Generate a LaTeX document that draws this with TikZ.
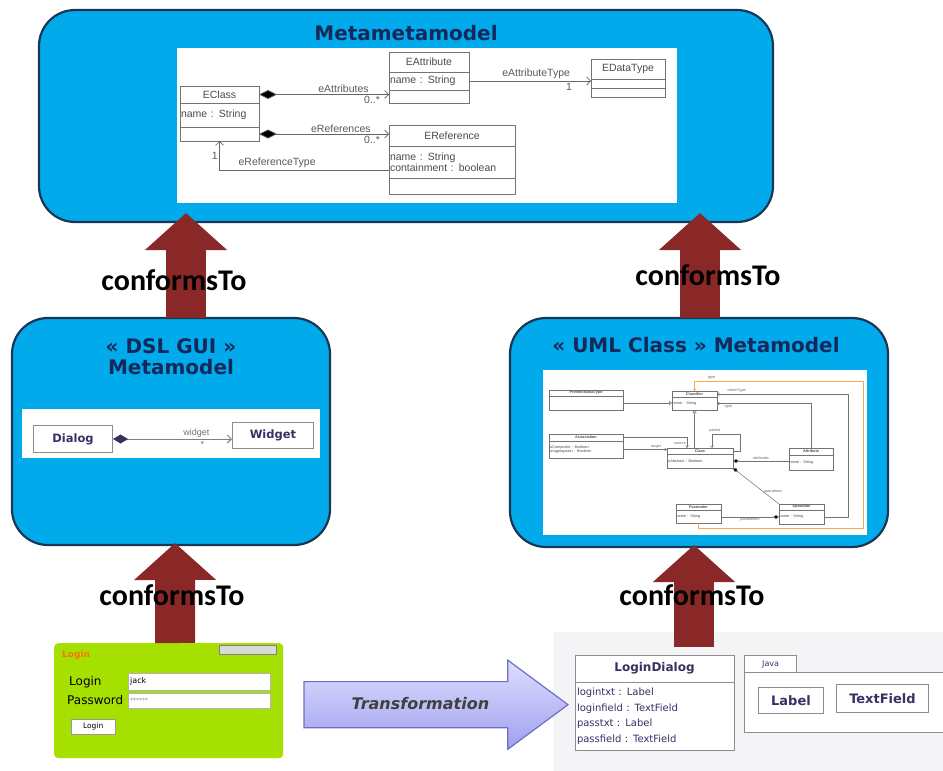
\documentclass[tikz,border=0pt]{standalone}
\usepackage{fontspec}
\setmainfont{Liberation Sans}
\newfontfamily\dejavu{DejaVu Sans}
\newfontfamily\carlito{Carlito}
\usetikzlibrary{positioning,arrows.meta,shapes.arrows}
\definecolor{modelblue}{RGB}{0,170,235}
\definecolor{modeledge}{RGB}{25,55,85}
\definecolor{titleblue}{RGB}{20,40,90}
\definecolor{conformred}{RGB}{138,40,40}
\definecolor{guigreen}{RGB}{166,224,0}
\definecolor{umltext}{RGB}{60,45,100}
\definecolor{panelgray}{RGB}{244,244,246}
\definecolor{translight}{RGB}{222,222,255}
\definecolor{transdark}{RGB}{160,160,238}
\definecolor{transedge}{RGB}{110,110,200}
\tikzset{
  model/.style={draw=modeledge, line width=2.2, fill=modelblue, rounded corners=36,
    anchor=north west, inner sep=0, outer sep=0},
  panel/.style={fill=white, anchor=north west, inner sep=0, outer sep=0},
  modeltitle/.style={font=\dejavu\bfseries\fontsize{20}{21}\selectfont, text=titleblue, align=center},
  conform/.style={line width=40, draw=conformred, -{Triangle[length=37pt,width=80pt]}},
  conformlabel/.style={font=\carlito\bfseries\fontsize{30}{30}\selectfont},
  ehead/.style={draw=black!55, line width=0.7, fill=white, outer sep=0, inner sep=1,
    font=\fontsize{10.5}{11.5}\selectfont, text=black!70, anchor=north west},
  ecomp/.style={ehead, anchor=north, align=left},
  eline/.style={draw=black!60, line width=0.7},
  elabel/.style={font=\fontsize{10.5}{11}\selectfont, text=black!65, inner sep=1.5},
  mhead/.style={draw=black!55, line width=0.5, fill=white, outer sep=0, inner sep=0.6,
    font=\bfseries\fontsize{3.8}{4.2}\selectfont, text=black!70, anchor=north west},
  mcomp/.style={mhead, anchor=north, align=left, font=\fontsize{3.8}{4.2}\selectfont},
  mline/.style={draw=black!55, line width=0.5},
  mlabel/.style={font=\fontsize{3.8}{4.2}\selectfont, text=black!60, inner sep=1},
  gbox/.style={draw=black!45, line width=1, fill=white, anchor=north west, inner sep=0,
    font=\dejavu\bfseries\fontsize{11.5}{12}\selectfont, text=umltext},
  glabel/.style={font=\fontsize{9}{9}\selectfont, text=black!55, inner sep=1.5},
  field/.style={fill=white, draw=black!30, anchor=north west, inner sep=2, align=left,
    text width=138, font=\dejavu\fontsize{8}{9}\selectfont},
  dhead/.style={draw=black!45, line width=1, fill=white, outer sep=0, inner sep=2,
    font=\dejavu\bfseries\fontsize{12}{13}\selectfont, text=umltext, anchor=north west},
  dcomp/.style={dhead, anchor=north, align=left, font=\dejavu\fontsize{10}{15.5}\selectfont},
  pkg/.style={draw=black!45, line width=1.2, fill=white, anchor=north west, inner sep=0,
    text=umltext}
}
\begin{document}
\begin{tikzpicture}[x=1pt,y=-1pt]
\useasboundingbox (0,0) rectangle (943,771);
\node[fill=panelgray, anchor=north west, minimum width=390, minimum height=139, inner sep=0] (bgpanel) at (553,632) {};

\node[model, minimum width=734, minimum height=212] (meta) at (39,10) {};
\node[modeltitle] (metatitle) at (406,33) {Metametamodel};
\node[panel, minimum width=500, minimum height=155] (metapanel) at (177,48) {};
\node[ehead, minimum width=79, minimum height=17] (eclass) at (180,86) {EClass};
\node[ecomp, text width=77, minimum height=24, below=0pt of eclass] (eclassA) {name : String};
\node[ecomp, text width=77, minimum height=14, below=0pt of eclassA] (eclassO) {};
\node[ehead, minimum width=80, minimum height=20] (eattr) at (389,52) {EAttribute};
\node[ecomp, text width=78, minimum height=18, below=0pt of eattr] (eattrA) {name : String};
\node[ecomp, text width=78, minimum height=13, below=0pt of eattrA] (eattrO) {};
\node[ehead, minimum width=74, minimum height=20] (edt) at (591,59) {EDataType};
\node[ecomp, text width=72, minimum height=9, below=0pt of edt] (edtA) {};
\node[ecomp, text width=72, minimum height=9, below=0pt of edtA] (edtO) {};
\node[ehead, minimum width=126, minimum height=21] (eref) at (389,125) {EReference};
\node[ecomp, text width=124, minimum height=32, below=0pt of eref] (erefA) {name : String\\containment : boolean};
\node[ecomp, text width=124, minimum height=16, below=0pt of erefA] (erefO) {};
\draw[eline, {Diamond[length=18pt,width=9pt,fill=black]}-{Straight Barb[length=4pt,width=8pt]}] (eclass.east) -- (eclass.east -| eattrO.west)
  node[elabel, above, pos=.65] {eAttributes} node[elabel, below, pos=.87] {0..*};
\draw[eline, {Diamond[length=18pt,width=9pt,fill=black]}-{Straight Barb[length=4pt,width=8pt]}] (eclassO.east) -- (eclassO.east -| erefA.west)
  node[elabel, above, pos=.63] {eReferences} node[elabel, below, pos=.87] {0..*};
\draw[eline, -{Straight Barb[length=4pt,width=8pt]}] (eattrA.east) -- (eattrA.east -| edt.west)
  node[elabel, above, pos=.55] {eAttributeType} node[elabel, below, pos=.82] {1};
\draw[eline, -{Straight Barb[length=4pt,width=8pt]}] ([yshift=-8]erefA.west) -| (eclassO.south)
  node[elabel, above, pos=.33] {eReferenceType} node[elabel, left, pos=.75] {1};

\node[model, minimum width=318, minimum height=227] (gui) at (12,318) {};
\node[modeltitle] (guititle) at (171,357) {« DSL GUI »\\Metamodel};
\node[panel, minimum width=298, minimum height=49] (guipanel) at (22,409) {};
\node[gbox, minimum width=79, minimum height=27] (dialog) at (33,425) {Dialog};
\node[gbox, minimum width=81, minimum height=26] (widget) at (232,422) {Widget};
\draw[draw=black!50, line width=1, {Diamond[length=15pt,width=9pt,fill=umltext,color=umltext]}-{Straight Barb[length=4pt,width=8pt]}] (dialog.east) -- (dialog.east -| widget.west)
  node[glabel, above, pos=.7] {widget} node[glabel, below, pos=.75] {*};

\node[model, minimum width=378, minimum height=229] (uml) at (510,318) {};
\node[modeltitle] (umltitle) at (696,345) {« UML Class » Metamodel};
\node[panel, minimum width=324, minimum height=165] (umlpanel) at (543,370) {};
\node[mhead, minimum width=74, minimum height=6] (pdt) at (549,390) {PrimitiveDataType};
\node[mcomp, text width=72.8, minimum height=14, below=0pt of pdt] (pdtA) {};
\node[mhead, minimum width=45, minimum height=6] (clf) at (672,391) {Classifier};
\node[mcomp, text width=43.8, minimum height=13, below=0pt of clf] (clfA) {name : String};
\node[mhead, minimum width=74, minimum height=7] (assoc) at (549,434) {Association};
\node[mcomp, text width=72.8, minimum height=17, below=0pt of assoc] (assocA) {isComposite : Boolean\\isAggregation : Boolean};
\node[mhead, minimum width=66, minimum height=6] (cls) at (667,448) {Class};
\node[mcomp, text width=64.8, minimum height=14, below=0pt of cls] (clsA) {isAbstract : Boolean};
\node[mhead, minimum width=44, minimum height=7] (attr) at (789,448) {Attribute};
\node[mcomp, text width=42.8, minimum height=15, below=0pt of attr] (attrA) {name : String};
\node[mhead, minimum width=45, minimum height=6] (par) at (676,504) {Parameter};
\node[mcomp, text width=43.8, minimum height=13, below=0pt of par] (parA) {name : String};
\node[mhead, minimum width=45, minimum height=6] (op) at (779,504) {Operation};
\node[mcomp, text width=43.8, minimum height=14, below=0pt of op] (opA) {name : String};
\draw[mline, -{Triangle[open,length=3pt,width=4pt]}] (pdtA.east) -- (pdtA.east -| clfA.west);
\draw[mline, -{Triangle[open,length=3pt,width=4pt]}] (clfA.south |- cls.north) -- (clfA.south);
\draw[mline, draw=orange!70, -{Straight Barb[length=2pt,width=3pt]}] (parA.south) |- (863,528) -- (863,381) -| (clf.north)
  node[mlabel, above, pos=.45] {type};
\draw[mline, -{Straight Barb[length=2pt,width=3pt]}] (opA.east) -| (848,394) -- (clf.east)
  node[mlabel, above, pos=.85] {returnType};
\draw[mline, -{Straight Barb[length=2pt,width=3pt]}] (attr.north) |- (clfA.east)
  node[mlabel, below, pos=.94] {type};
\draw[mline, {Straight Barb[length=2pt,width=3pt]}-] ([xshift=12]cls.north) |- node[mlabel, above, pos=.55] {parent} (740,434) |- (cls.east);
\draw[mline, -{Straight Barb[length=2pt,width=3pt]}] (assoc.east) -| ([xshift=-13]cls.north)
  node[mlabel, left, pos=.8] {source};
\draw[mline, -{Straight Barb[length=2pt,width=3pt]}] (assocA.east) -- (assocA.east -| cls.west)
  node[mlabel, above, pos=.75] {target};
\draw[mline, {Diamond[length=6pt,width=4pt,fill=black]}-] (clsA.east) -- (clsA.east -| attrA.west)
  node[mlabel, above, pos=.5] {attributes};
\draw[mline, {Diamond[length=6pt,width=4pt,fill=black]}-] (clsA.south east) -- (op.north west)
  node[mlabel, right, pos=.65] {operations};
\draw[mline, {Diamond[length=6pt,width=4pt,fill=black]}-] (opA.west) -- (opA.west -| parA.east)
  node[mlabel, below, pos=.5] {parameters};

\node[fill=guigreen, rounded corners=4, anchor=north west, minimum width=229, minimum height=115, inner sep=0] (login) at (54,643) {};
\node[font=\dejavu\bfseries\fontsize{9}{10}\selectfont, text=orange!90!red, anchor=west, inner sep=0] (logintitle) at (62,655) {Login};
\node[fill=black!15, draw=black!50, anchor=north west, minimum width=57, minimum height=9, inner sep=0] (loginctl) at (219,645) {};
\node[font=\dejavu\fontsize{12}{13}\selectfont, anchor=west, inner sep=0] (loginlbl) at (69,682) {Login};
\node[font=\dejavu\fontsize{12}{13}\selectfont, anchor=west, inner sep=0] (passlbl) at (67,700) {Password};
\node[field, minimum height=17] (loginfld) at (128,673) {jack};
\node[field, minimum height=15, font=\dejavu\fontsize{6}{7}\selectfont, text=black!50] (passfld) at (128,693) {******};
\node[fill=white, draw=black!40, anchor=north west, minimum width=44, minimum height=15, inner sep=0,
  font=\dejavu\fontsize{7.5}{8}\selectfont] (loginbtn) at (71,719) {Login};

\node[single arrow, single arrow head extend=21.5pt, single arrow tip angle=73, minimum height=264pt,
  text height=12pt, text depth=3pt, inner ysep=15pt, inner xsep=4pt, draw=transedge, line width=1.2,
  top color=translight, bottom color=transdark, font=\dejavu\bfseries\itshape\fontsize{16}{16}\selectfont,
  text=black!75, anchor=tail] (trans) at ([xshift=20,yshift=-4]login.east) {Transformation};

\node[dhead, minimum width=159, minimum height=27] (ldlg) at (575,655) {LoginDialog};
\node[dcomp, text width=155, minimum height=68, below=0pt of ldlg] (ldlgA) {logintxt : Label\\loginfield : TextField\\passtxt : Label\\passfield : TextField};
\node[pkg, minimum width=52, minimum height=17, font=\dejavu\fontsize{8}{9}\selectfont] (jtab) at (744,655) {Java};
\node[pkg, minimum width=210, minimum height=60] (jpkg) at (744,672) {};
\node[gbox, minimum width=65, minimum height=26, font=\dejavu\bfseries\fontsize{13}{14}\selectfont] (jlabel) at (758,687) {Label};
\node[gbox, minimum width=92, minimum height=28, font=\dejavu\bfseries\fontsize{13}{14}\selectfont] (jfield) at (836,684) {TextField};

\draw[conform] ([xshift=15]gui.north) -- ([xshift=-220,yshift=9]meta.south);
\draw[conform] ([xshift=1]uml.north) -- ([xshift=294,yshift=9]meta.south);
\draw[conform] ([xshift=6.5]login.north) -- ([xshift=4,yshift=2]gui.south);
\draw[conform] ([xshift=39.5,yshift=8]ldlg.north) -- ([xshift=-5,yshift=2]uml.south);
\node[conformlabel] (conf1) at (174,280) {conformsTo};
\node[conformlabel] (conf2) at (708,275) {conformsTo};
\node[conformlabel] (conf3) at (172,595) {conformsTo};
\node[conformlabel] (conf4) at (692,595) {conformsTo};
\end{tikzpicture}
\end{document}
